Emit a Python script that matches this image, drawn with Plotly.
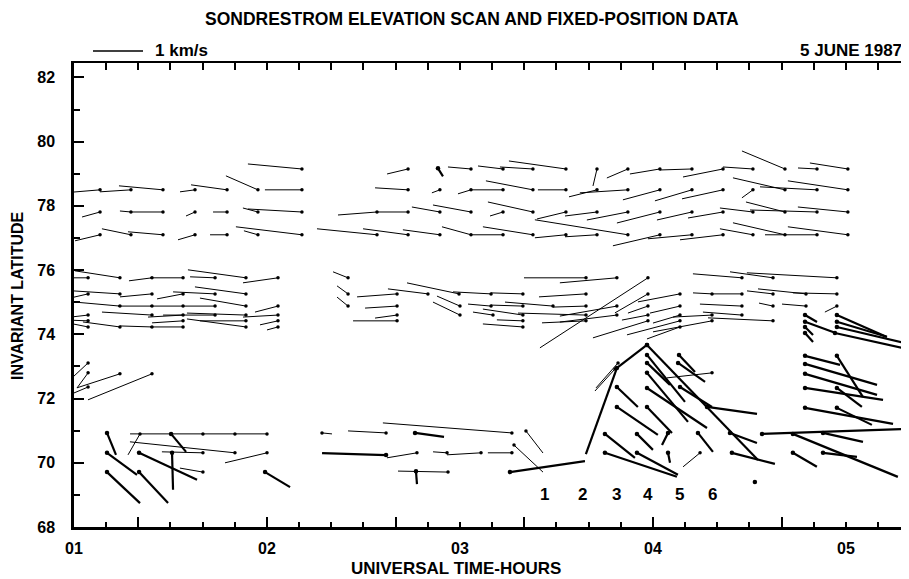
import plotly.graph_objects as go

# ---------------- data ----------------
# each record: (UT hours, invariant latitude deg, east velocity m/s, north velocity m/s)
band_79 = [(2.181, 79.15, -1080, 100), (2.731, 79.15, -420, -100), (3.057, 79.15, -460, 40),
           (3.223, 79.15, -500, 60), (3.378, 79.15, -660, 40), (3.549, 79.15, -1140, 160),
           (3.710, 79.15, -80, -340), (3.870, 79.15, -420, -180), (4.036, 79.15, -600, -100),
           (4.202, 79.15, -640, -20), (4.363, 79.15, -800, -160), (4.518, 79.15, -600, 40),
           (4.684, 79.15, -860, 360), (4.850, 79.15, -380, 20), (5.010, 79.15, -760, 120)]
band_785 = [(1.135, 78.5, -720, -60), (1.295, 78.5, -620, -40), (1.461, 78.5, -880, 80),
            (1.627, 78.5, -300, -40), (1.793, 78.5, -720, 100), (1.953, 78.5, -640, 280),
            (2.181, 78.5, -740, 0), (2.731, 78.5, -660, 40), (2.896, 78.5, -160, -60),
            (3.057, 78.5, -260, -80), (3.223, 78.5, -640, 0), (3.378, 78.5, -940, 180),
            (3.549, 78.5, -560, 0), (3.710, 78.5, -560, -140), (3.870, 78.5, -960, -60),
            (4.036, 78.5, -740, -200), (4.202, 78.5, -740, -220), (4.363, 78.5, -820, -180),
            (4.518, 78.5, -220, -160), (4.684, 78.5, -1040, 240), (4.850, 78.5, -1140, 60),
            (5.010, 78.5, -1200, 180)]
band_778 = [(1.135, 77.81, -360, -100), (1.295, 77.81, -220, 20), (1.461, 77.81, -640, 0),
            (1.627, 77.81, -180, -80), (1.793, 77.81, -280, 0), (1.953, 77.81, -300, 80),
            (2.181, 77.81, -1080, 60), (2.570, 77.81, -780, -60), (2.731, 77.81, -620, 0),
            (2.896, 77.81, -560, 100), (3.057, 77.81, -760, 140), (3.223, 77.81, -260, -80),
            (3.378, 77.81, -900, 200), (3.549, 77.81, -580, -140), (3.710, 77.81, -640, -80),
            (3.870, 77.81, -820, -160), (4.036, 77.81, -860, -220), (4.202, 77.81, -700, -160),
            (4.363, 77.81, -700, -120), (4.518, 77.81, -660, 80), (4.684, 77.81, -780, 200),
            (4.850, 77.81, -1340, 40), (5.010, 77.81, -1000, 100)]
band_771 = [(1.135, 77.1, -500, -120), (1.295, 77.1, -580, 120), (1.461, 77.1, -700, 60),
            (1.627, 77.1, -340, -100), (1.793, 77.1, -340, 0), (1.953, 77.1, -280, 80),
            (2.181, 77.1, -1320, 160), (2.570, 77.1, -1200, 120), (2.731, 77.1, -900, 120),
            (2.896, 77.1, -740, 100), (3.057, 77.1, -580, 160), (3.223, 77.1, -640, 0),
            (3.378, 77.1, -1000, 160), (3.549, 77.1, -620, -60), (3.710, 77.1, -640, -40),
            (3.870, 77.1, -1860, 300), (4.036, 77.1, -940, -220), (4.202, 77.1, -880, -80),
            (4.363, 77.1, -860, -100), (4.518, 77.1, -660, 120), (4.684, 77.1, -1040, 240),
            (4.850, 77.1, -1040, 0), (5.010, 77.1, -1200, 160)]
band_758 = [(1.073, 75.76, -560, 0), (1.238, 75.76, -900, 140), (1.404, 75.76, -460, -60),
            (1.565, 75.76, -660, 0), (1.731, 75.76, -500, 20), (1.891, 75.76, -1160, 160),
            (2.057, 75.76, -700, -100), (2.420, 75.76, -300, 120), (3.653, 75.76, -1240, 0),
            (3.813, 75.76, -1140, -100), (3.974, 75.76, -2160, -1400), (4.461, 75.76, -980, 80),
            (4.622, 75.76, -860, 120), (4.953, 75.76, -1800, 100)]
band_753 = [(1.073, 75.26, -520, -120), (1.238, 75.26, -940, 60), (1.404, 75.26, -640, -60),
            (1.565, 75.26, -520, -100), (1.731, 75.26, -840, 40), (1.891, 75.26, -1020, 140),
            (2.420, 75.26, -220, 160), (2.674, 75.26, -800, -60), (2.834, 75.26, -800, 100),
            (2.995, 75.26, -1040, 220), (3.161, 75.26, -760, 40), (3.326, 75.26, -640, 20),
            (3.653, 75.26, -940, -60), (3.974, 75.26, -660, -380), (4.140, 75.26, -840, -160),
            (4.306, 75.26, -380, 20), (4.461, 75.26, -600, 0), (4.622, 75.26, -520, 60),
            (4.793, 75.26, -960, 100), (4.953, 75.26, -880, 20)]
band_749 = [(1.238, 74.88, -900, 80), (1.404, 74.88, -680, 0), (1.565, 74.88, -660, 0),
            (1.731, 74.88, -640, 0), (1.891, 74.88, -920, 160), (2.057, 74.88, -460, -120),
            (2.420, 74.88, -220, 180), (2.674, 74.88, -640, -40), (3.000, 74.88, -460, 200),
            (3.161, 74.88, -460, 40), (3.326, 74.88, -640, 20), (3.482, 74.88, -960, 80),
            (3.653, 74.88, -660, -20), (3.813, 74.88, -1140, -200), (3.974, 74.88, -400, -140),
            (4.140, 74.88, -600, -140), (4.461, 74.88, -840, 40), (4.622, 74.88, -280, 60),
            (4.793, 74.88, -480, 40), (4.953, 74.88, -240, -120)]
band_746 = [(1.073, 74.6, -520, -60), (1.404, 74.6, -1000, 60), (1.565, 74.6, -700, -40),
            (1.731, 74.6, -1040, 0), (1.891, 74.6, -1180, 40), (2.057, 74.6, -700, -40),
            (2.674, 74.6, -440, -60), (3.000, 74.6, -540, 260), (3.171, 74.6, -400, 60),
            (3.326, 74.6, -800, 120), (3.653, 74.6, -1360, 40), (3.813, 74.6, -1140, -140),
            (3.974, 74.6, -520, -100), (4.140, 74.6, -540, -160), (4.306, 74.6, -780, -40),
            (4.461, 74.6, -780, 60)]
band_744 = [(1.073, 74.42, -520, 20), (1.565, 74.42, -620, -40), (1.891, 74.42, -920, 0),
            (2.057, 74.42, -360, -80), (2.674, 74.42, -880, 0), (3.326, 74.42, -520, 20),
            (3.653, 74.42, -880, -40), (3.974, 74.42, -1100, -340), (4.140, 74.42, -1060, -280),
            (4.306, 74.42, -1180, -220), (4.622, 74.42, -1300, 60)]
band_742 = [(1.073, 74.23, -500, 100), (1.238, 74.23, -740, 100), (1.404, 74.23, -640, 20),
            (1.565, 74.23, -660, 0), (1.891, 74.23, -1180, 160), (2.057, 74.23, -220, -60),
            (3.326, 74.23, -800, 60), (4.140, 74.23, -660, -240)]
band_72 = [(1.073, 73.11, -300, -280), (1.073, 72.8, -220, -300), (1.238, 72.77, -860, -280),
           (1.073, 72.36, -520, -220), (1.404, 72.77, -1280, -520)]
band_70 = [(1.342, 70.9, -240, -420), (1.503, 70.9, -820, 0), (1.668, 70.9, -640, 0),
           (1.834, 70.9, -640, 0), (2.000, 70.9, -640, 0), (1.834, 70.31, -2100, 220),
           (1.668, 70.31, -820, 20), (1.668, 69.71, -460, 80), (2.000, 70.31, -840, -200),
           (2.285, 70.93, 200, -20), (2.617, 70.93, -760, 40), (3.269, 70.93, -2580, 200),
           (2.777, 70.31, -600, -100), (2.933, 70.31, -280, 20), (3.109, 70.31, -680, -40),
           (3.269, 70.31, -480, 0), (2.938, 69.71, -1000, 20), (3.342, 70.99, 340, -440),
           (3.280, 70.55, 580, -540), (3.819, 73.11, -440, -500), (3.803, 72.92, -400, -440),
           (4.306, 72.8, -900, -100), (4.244, 70.31, -340, -280)]

# fixed-position data (heavier vectors)
fixed_early = [(1.171, 70.93, 180, -440), (1.171, 70.31, 600, -440), (1.171, 69.71, 660, -620),
               (1.337, 70.31, 1160, -540), (1.337, 69.71, 580, -620), (1.503, 70.9, 300, -360),
               (1.508, 70.31, 20, -740), (1.990, 69.71, 500, -300), (2.617, 70.24, -1280, 40),
               (2.767, 70.93, 580, -80), (2.772, 69.74, 20, -260), (2.886, 79.17, 100, -160),
               (3.259, 69.71, 1500, 220)]
fixed_late = [(3.813, 72.95, -620, -1720), (3.969, 73.67, -600, -460), (3.969, 73.67, 2220, -2300),
              (3.813, 72.36, 420, -400), (3.813, 71.74, 820, -560), (3.751, 70.9, 600, -480),
              (3.751, 70.31, 1440, -480), (3.917, 70.9, 320, -320), (3.917, 70.31, 820, -440),
              (3.969, 73.36, 760, -940), (3.969, 73.11, 460, -440), (3.969, 72.8, 820, -980),
              (3.969, 72.33, 1200, -800), (3.969, 71.74, 500, -520), (4.078, 70.93, -120, -240),
              (4.078, 70.31, 40, -200), (4.135, 73.36, 320, -340), (4.130, 73.11, 540, -380),
              (4.140, 72.36, 640, -400), (4.280, 71.74, 1000, -140), (4.233, 70.93, 300, -380),
              (4.399, 70.93, 540, -200), (4.409, 70.31, 860, -220), (4.565, 70.9, 2920, 100),
              (4.725, 70.9, 2100, -860), (4.881, 70.93, 800, -180), (4.881, 70.31, 680, -80),
              (4.725, 70.31, 480, -280), (4.528, 69.4, 0, 0)]
fixed_east = [(4.788, 74.6, 240, -140), (4.788, 74.39, 600, -220), (4.788, 74.23, 160, -160),
              (4.788, 74.04, 160, -180), (4.953, 74.6, 1000, -440), (4.953, 74.39, 1000, -300),
              (4.953, 74.23, 1360, -320), (4.943, 74.04, 1460, -320), (4.788, 73.33, 700, -180),
              (4.788, 73.08, 1440, -420), (4.788, 72.77, 1440, -420), (4.788, 72.33, 1560, -240),
              (4.788, 71.71, 1760, -320), (4.953, 73.33, 520, -820), (4.953, 72.33, 500, -380),
              (4.953, 71.71, 700, -340)]

scan_labels = ["1", "2", "3", "4", "5", "6"]
scan_label_ut = [3.440, 3.637, 3.813, 3.974, 4.140, 4.306]
scan_label_lat = 69.0

hour_labels = ["01", "02", "03", "04", "05"]
lat_ticks = [68, 70, 72, 74, 76, 78, 80, 82]

# ---------------- layout geometry ----------------
# the page body has an 8 px margin; the plot frame should sit at x 74..905, y 63..527 of the window
BODY = 8
FIG_W, FIG_H = 909 - BODY, 579 - BODY
PL, PR, PT, PB = 74, 905, 63, 527
M_L, M_R, M_T, M_B = PL - BODY, FIG_W - (PR - BODY), PT - BODY, FIG_H - (PB - BODY)
X_RANGE = [1.0, 5.306]
Y_RANGE = [68.0, 82.45]
plot_w = PR - PL
plot_h = PB - PT
px_per_h = plot_w / (X_RANGE[1] - X_RANGE[0])
px_per_deg = plot_h / (Y_RANGE[1] - Y_RANGE[0])
KMS_PX = 50  # on-page length of a 1 km/s vector

FONT = "Liberation Sans, Arial, Helvetica, sans-serif"


def vectors(recs):
    xs, ys, bx, by = [], [], [], []
    for ut, lat, ve, vn in recs:
        x1 = ut + ve / 1000.0 * KMS_PX / px_per_h
        y1 = lat + vn / 1000.0 * KMS_PX / px_per_deg
        xs += [ut, x1, None]
        ys += [lat, y1, None]
        bx.append(ut)
        by.append(lat)
    return xs, ys, bx, by


thin = band_79 + band_785 + band_778 + band_771 + band_758 + band_753 + band_749 + \
    band_746 + band_744 + band_742 + band_72 + band_70
thick = fixed_early + fixed_late + fixed_east

fig = go.Figure()
for recs, lw, ms in [(thin, 1.0, 3.5), (thick, 2.2, 4.5)]:
    xs, ys, bx, by = vectors(recs)
    fig.add_trace(go.Scatter(x=xs, y=ys, mode="lines", line=dict(color="black", width=lw),
                             hoverinfo="skip", showlegend=False, cliponaxis=False))
    fig.add_trace(go.Scatter(x=bx, y=by, mode="markers", marker=dict(color="black", size=ms),
                             hoverinfo="skip", showlegend=False))

# helper traces that bind the overlay axes
fig.add_trace(go.Scatter(x=[None], y=[None], xaxis="x2", yaxis="y", showlegend=False))
fig.add_trace(go.Scatter(x=[None], y=[None], xaxis="x3", yaxis="y", showlegend=False))
fig.add_trace(go.Scatter(x=[None], y=[None], xaxis="x", yaxis="y2", showlegend=False))

ten_min = [1 + k / 6 for k in range(0, 26)]
ten_txt = [hour_labels[round(v) - 1] if abs(v - round(v)) < 1e-6 and 1 <= round(v) <= 5 else ""
           for v in ten_min]
forty_min = [1 + 1 / 3 + k * 2 / 3 for k in range(0, 7)]

tickfont = dict(size=16, family=FONT, weight="bold", color="black")
fig.update_layout(
    width=FIG_W, height=FIG_H,
    margin=dict(l=M_L, r=M_R, t=M_T, b=M_B, pad=0),
    paper_bgcolor="white", plot_bgcolor="white",
    font=dict(family=FONT, color="black"),
    xaxis=dict(range=X_RANGE, tickmode="array", tickvals=ten_min, ticktext=ten_txt,
               ticks="inside", ticklen=5, tickwidth=1.5, tickcolor="black",
               showline=True, linewidth=2.5, linecolor="black", showgrid=False, zeroline=False,
               tickfont=tickfont, ticklabelstandoff=5),
    xaxis2=dict(range=X_RANGE, overlaying="x", side="bottom", anchor="y", tickmode="array",
                tickvals=forty_min, ticks="inside", ticklen=10, tickwidth=1.5, tickcolor="black",
                showticklabels=False, showline=False, showgrid=False, zeroline=False),
    xaxis3=dict(range=X_RANGE, overlaying="x", side="top", anchor="y", tickmode="array",
                tickvals=ten_min, ticks="inside", ticklen=7, tickwidth=1.5, tickcolor="black",
                showticklabels=False, showline=True, linewidth=2, linecolor="black",
                showgrid=False, zeroline=False),
    yaxis=dict(range=Y_RANGE, tickmode="array", tickvals=lat_ticks,
               ticks="inside", ticklen=10, tickwidth=1.5, tickcolor="black",
               minor=dict(dtick=1, tick0=68, ticks="inside", ticklen=6, tickwidth=1.5, tickcolor="black"),
               showline=True, linewidth=2.5, linecolor="black", showgrid=False, zeroline=False,
               tickfont=tickfont, ticklabelstandoff=13),
    yaxis2=dict(range=Y_RANGE, overlaying="y", side="right", anchor="x", showticklabels=False,
                ticks="", showline=True, linewidth=1, linecolor="black", showgrid=False,
                zeroline=False),
)


def px_x(px):
    return (px - PL) / plot_w


def px_y(py):
    return (PB - py) / plot_h


def bold(size):
    return dict(family=FONT, size=size, color="black", weight="bold")


fig.add_annotation(text="SONDRESTROM ELEVATION SCAN AND FIXED-POSITION DATA", xref="paper", yref="paper",
                   x=px_x(472), y=px_y(19), showarrow=False, font=bold(17.5), xanchor="center", yanchor="middle")
fig.add_annotation(text="1 km/s", xref="paper", yref="paper", x=px_x(153), y=px_y(51),
                   showarrow=False, font=bold(17), xanchor="left", yanchor="middle")
fig.add_annotation(text="5 JUNE 1987", xref="paper", yref="paper", x=px_x(904), y=px_y(51),
                   showarrow=False, font=bold(17), xanchor="right", yanchor="middle")
fig.add_annotation(text="INVARIANT LATITUDE", xref="paper", yref="paper", x=px_x(17), y=px_y(296),
                   showarrow=False, font=bold(16), textangle=-90, xanchor="center", yanchor="middle")
fig.add_annotation(text="UNIVERSAL TIME-HOURS", xref="paper", yref="paper", x=px_x(456), y=px_y(568),
                   showarrow=False, font=bold(17), xanchor="center", yanchor="middle")
for lab, ut in zip(scan_labels, scan_label_ut):
    fig.add_annotation(text=lab, x=ut, y=scan_label_lat, xref="x", yref="y", showarrow=False,
                       font=bold(17), xanchor="center", yanchor="middle")

# 1 km/s reference bar, drawn at the vector scale
bar_x0 = X_RANGE[0] + (93 - PL) / px_per_h
fig.add_shape(type="line", xref="x", yref="paper", x0=bar_x0, x1=bar_x0 + KMS_PX / px_per_h,
              y0=px_y(51), y1=px_y(51), line=dict(color="black", width=1.5))

fig.write_html("out.html")
